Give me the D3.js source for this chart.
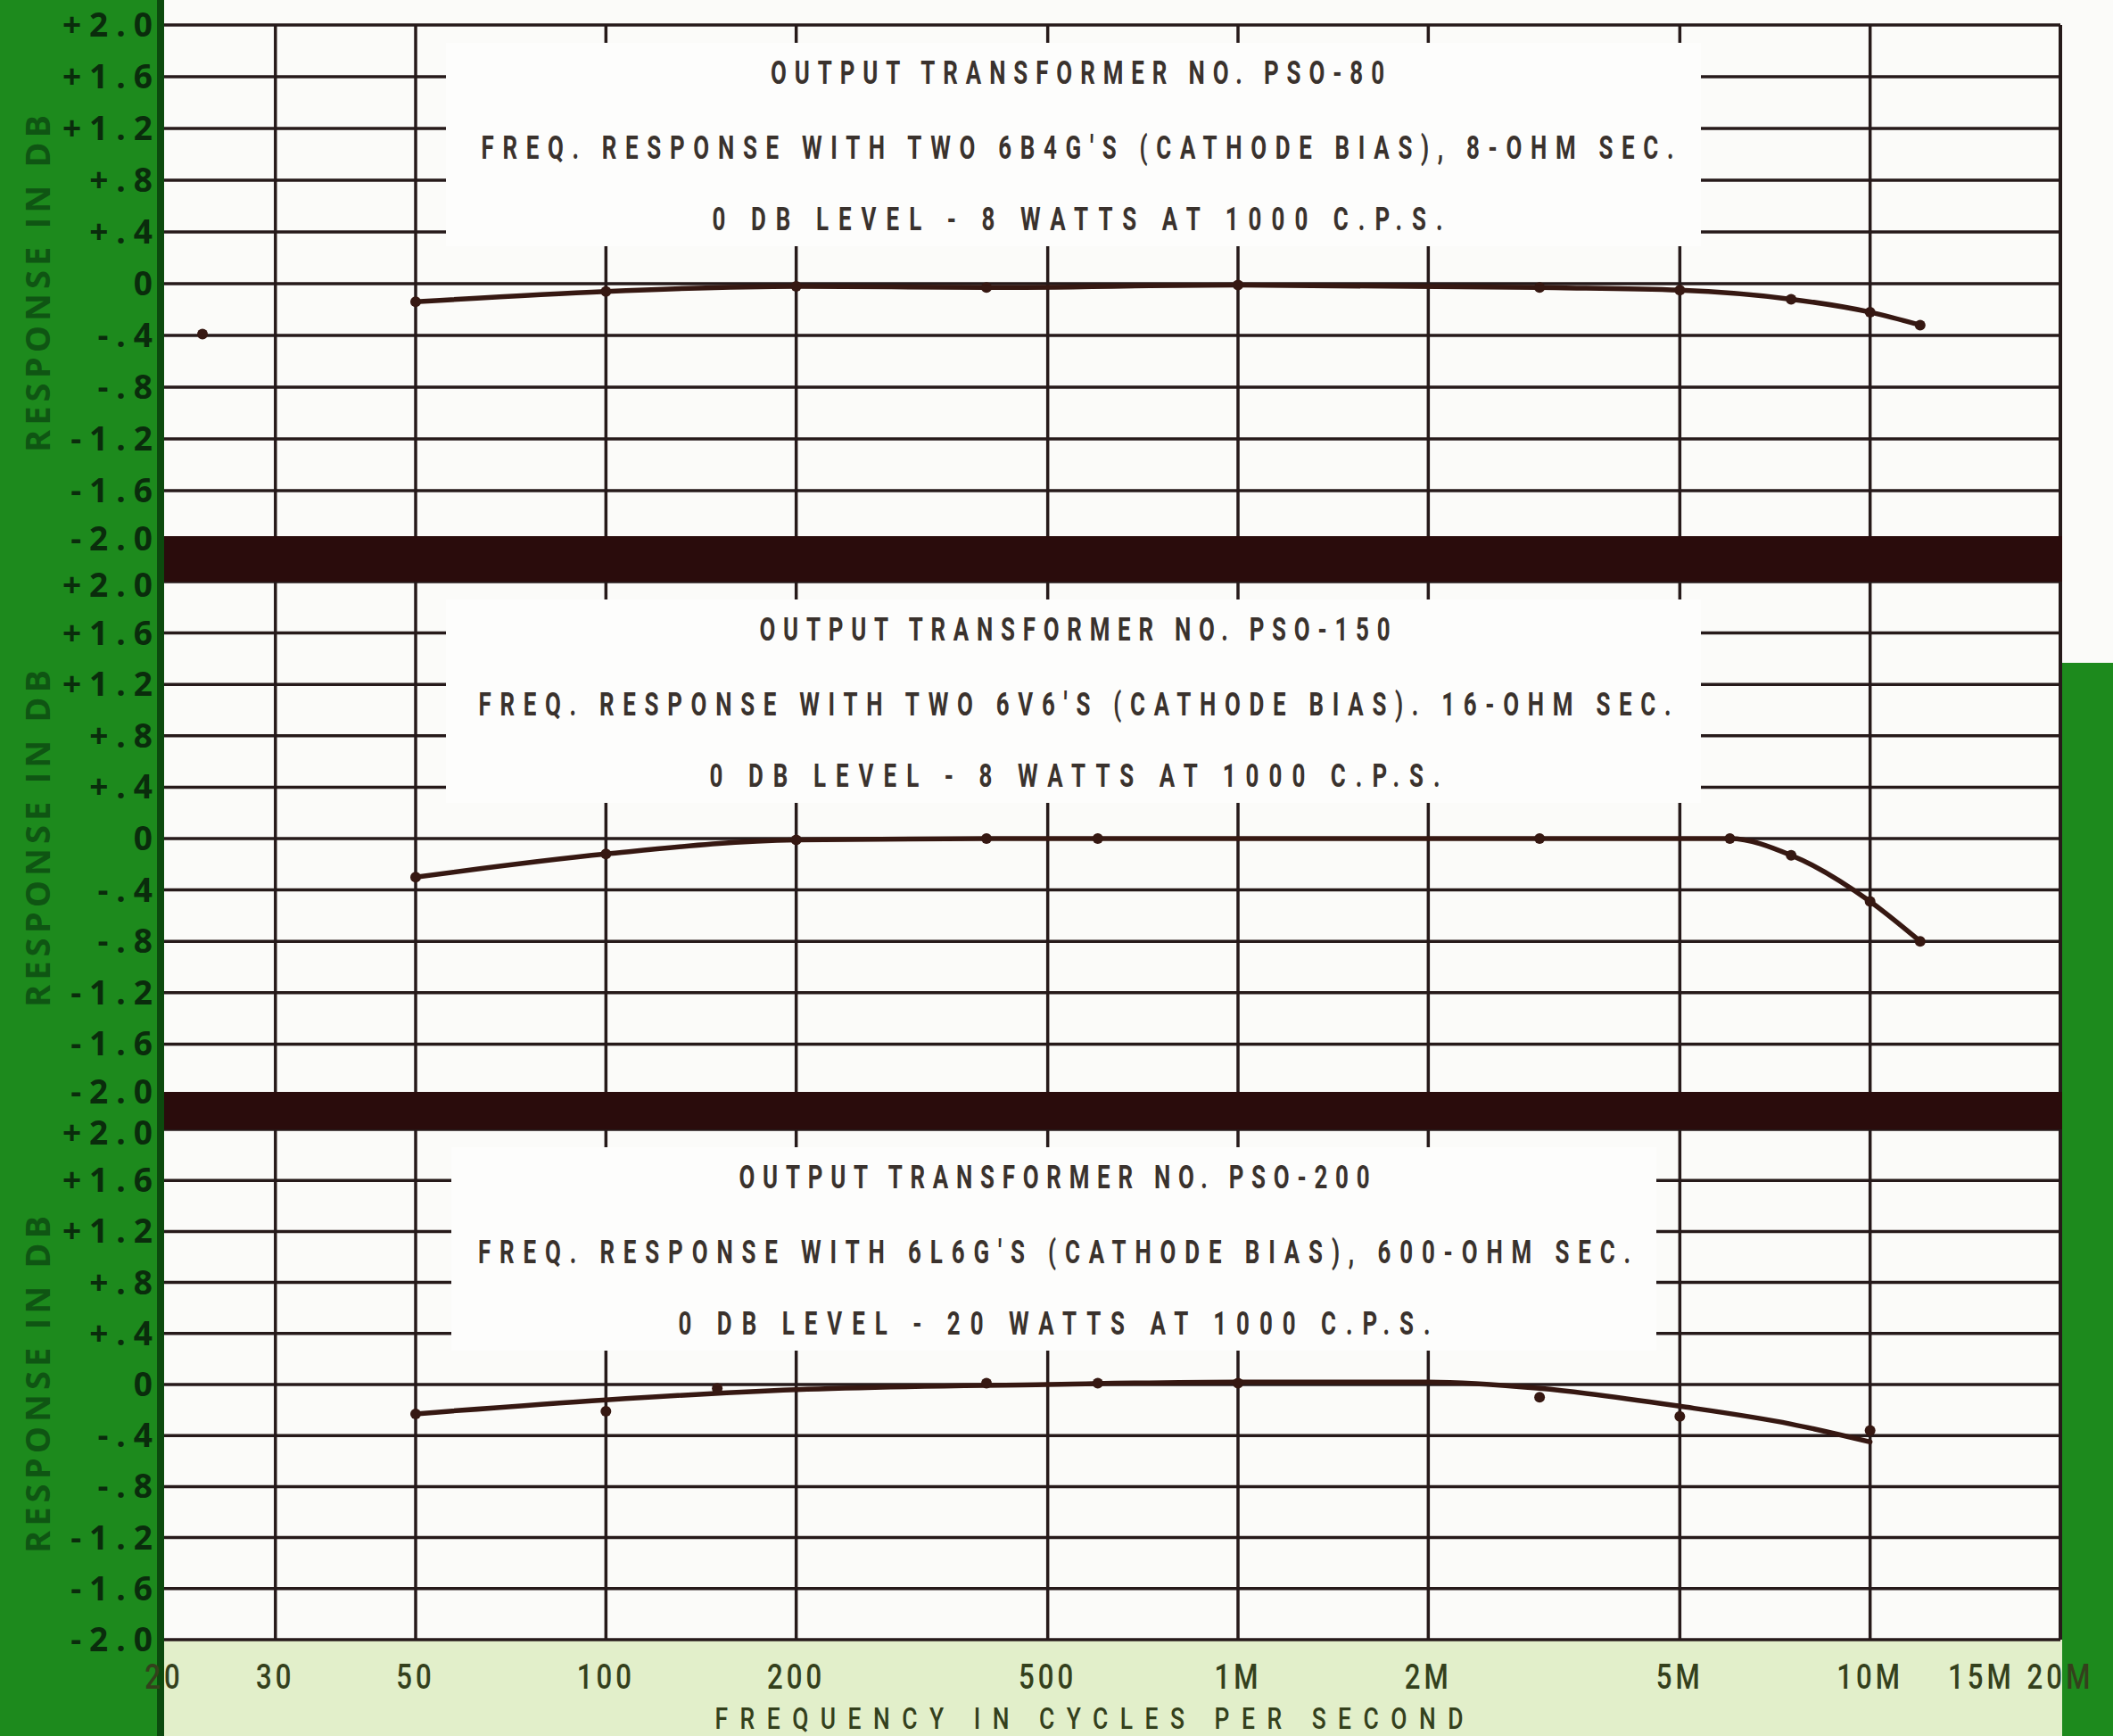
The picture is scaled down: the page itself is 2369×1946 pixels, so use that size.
<!DOCTYPE html>
<html>
<head>
<meta charset="utf-8">
<script src="https://cdnjs.cloudflare.com/ajax/libs/d3/7.8.5/d3.min.js"></script>
<style>
  body { margin: 0; background: #fbfbf9; }
  svg { display: block; }
</style>
</head>
<body>
<div id="chart"></div>
<script>

// ---- data ----
var freqTicks  = [20, 30, 50, 100, 200, 500, 1000, 2000, 5000, 10000, 15000, 20000];
var freqLabels = ["20", "30", "50", "100", "200", "500", "1M", "2M", "5M", "10M", "15M", "20M"];
var gridFreqs  = [30, 50, 100, 200, 500, 1000, 2000, 5000, 10000, 20000];
var dbTicks    = [2.0, 1.6, 1.2, 0.8, 0.4, 0, -0.4, -0.8, -1.2, -1.6, -2.0];
var dbLabels   = ["+2.0", "+1.6", "+1.2", "+.8", "+.4", "0", "-.4", "-.8", "-1.2", "-1.6", "-2.0"];

var titlesPso80  = ["OUTPUT TRANSFORMER NO. PSO-80",
                    "FREQ. RESPONSE WITH TWO 6B4G'S (CATHODE BIAS), 8-OHM SEC.",
                    "0 DB LEVEL - 8 WATTS AT 1000 C.P.S."];
var titlesPso150 = ["OUTPUT TRANSFORMER NO. PSO-150",
                    "FREQ. RESPONSE WITH TWO 6V6'S (CATHODE BIAS). 16-OHM SEC.",
                    "0 DB LEVEL - 8 WATTS AT 1000 C.P.S."];
var titlesPso200 = ["OUTPUT TRANSFORMER NO. PSO-200",
                    "FREQ. RESPONSE WITH 6L6G'S (CATHODE BIAS), 600-OHM SEC.",
                    "0 DB LEVEL - 20 WATTS AT 1000 C.P.S."];

// PSO-80 : first point (23 c/s) stands alone, not joined to the curve
var pso80StrayHz = [23];
var pso80StrayDb = [-0.39];
var pso80Hz = [50, 100, 200, 400, 1000, 3000, 5000, 7500, 10000, 12000];
var pso80Db = [-0.14, -0.06, -0.02, -0.03, -0.01, -0.03, -0.05, -0.12, -0.22, -0.32];

// PSO-150
var pso150Hz = [50, 100, 200, 400, 600, 3000, 6000, 7500, 10000, 12000];
var pso150Db = [-0.30, -0.12, -0.01, 0, 0, 0, 0, -0.13, -0.49, -0.80];

// PSO-200 : measured points sit a little off the faired curve
var pso200Hz = [50, 100, 150, 400, 600, 1000, 3000, 5000, 10000];
var pso200Db = [-0.23, -0.21, -0.03, 0.01, 0.01, 0.01, -0.10, -0.25, -0.36];
var pso200CurveHz = [50, 100, 200, 500, 1000, 2000, 3000, 5000, 7500, 10000];
var pso200CurveDb = [-0.23, -0.12, -0.04, 0.0, 0.02, 0.02, -0.03, -0.17, -0.31, -0.45];

// ---- layout ----
var W = 2369, H = 1946;
var plotL = 184, plotR = 2310;
var inkGrid = "#261a1a", inkCurve = "#361812", inkTitle = "#3a322d";
var green = "#1d8a1d", darkGreen = "#0c4a0e", paleGreen = "#e2efca", band = "#2a0c0c";
var letterFont = "Roboto, 'DejaVu Sans', sans-serif";

function zip(a, b) { return a.map(function(v, i) { return [v, b[i]]; }); }

var panels = [
  { top: 28,   bottom: 608,  box: [500, 1907], cx: 1208, widths: [688, 1337, 819], titles: titlesPso80,
    curve: zip(pso80Hz, pso80Db), points: zip(pso80StrayHz, pso80StrayDb).concat(zip(pso80Hz, pso80Db)) },
  { top: 652,  bottom: 1228, box: [500, 1907], cx: 1205, widths: [707, 1337, 819], titles: titlesPso150,
    curve: zip(pso150Hz, pso150Db), points: zip(pso150Hz, pso150Db) },
  { top: 1266, bottom: 1838, box: [506, 1857], cx: 1182, widths: [707, 1292, 843], titles: titlesPso200,
    curve: zip(pso200CurveHz, pso200CurveDb), points: zip(pso200Hz, pso200Db) }
];

var x = d3.scaleLog().domain([20, 20000]).range([plotL, plotR]);

var svg = d3.select("#chart").append("svg")
    .attr("width", W)
    .attr("height", H);

svg.append("rect").attr("width", W).attr("height", H).attr("fill", "#fbfbf9");

// pale green strip under the bottom chart
svg.append("rect")
    .attr("x", plotL).attr("y", 1838)
    .attr("width", 2312 - plotL).attr("height", H - 1838)
    .attr("fill", paleGreen);

panels.forEach(function(p) {
  var y = d3.scaleLinear().domain([2, -2]).range([p.top, p.bottom]);
  p.y = y;
  var g = svg.append("g");

  g.selectAll(".hgrid")
      .data(dbTicks)
    .enter().append("line")
      .attr("x1", plotL).attr("x2", plotR)
      .attr("y1", function(d) { return y(d); })
      .attr("y2", function(d) { return y(d); })
      .attr("stroke", inkGrid)
      .attr("stroke-width", 3.5);

  g.selectAll(".vgrid")
      .data(gridFreqs)
    .enter().append("line")
      .attr("x1", function(d) { return x(d); })
      .attr("x2", function(d) { return x(d); })
      .attr("y1", p.top).attr("y2", p.bottom)
      .attr("stroke", inkGrid)
      .attr("stroke-width", function(d) { return d === 20000 ? 4 : 3.5; });

  // white patch behind the lettering
  g.append("rect")
      .attr("x", p.box[0]).attr("y", p.top + 20)
      .attr("width", p.box[1] - p.box[0]).attr("height", 228)
      .attr("fill", "#fdfdfc");

  // narrow, tall stencil-like lettering: squeeze glyphs, stretch spacing
  var baselines = [66, 150, 230];
  var squeeze = 0.7;
  g.selectAll(".title")
      .data(p.titles)
    .enter().append("text")
      .attr("transform", function(d, i) {
        return "translate(" + p.cx + "," + (p.top + baselines[i]) + ") scale(" + squeeze + ",1)";
      })
      .attr("text-anchor", "middle")
      .attr("textLength", function(d, i) { return p.widths[i] / squeeze; })
      .attr("lengthAdjust", "spacing")
      .style("font-family", letterFont)
      .style("font-weight", "700")
      .style("font-size", "37px")
      .style("fill", inkTitle)
      .text(function(d) { return d; });

  var line = d3.line()
      .x(function(d) { return x(d[0]); })
      .y(function(d) { return y(d[1]); })
      .curve(d3.curveMonotoneX);

  g.append("path")
      .datum(p.curve)
      .attr("d", line)
      .attr("fill", "none")
      .attr("stroke", inkCurve)
      .attr("stroke-width", 5.5)
      .attr("stroke-linecap", "round");

  g.selectAll(".pt")
      .data(p.points)
    .enter().append("circle")
      .attr("cx", function(d) { return x(d[0]); })
      .attr("cy", function(d) { return y(d[1]); })
      .attr("r", 6)
      .attr("fill", inkCurve);
});

// heavy dark bars between the charts
svg.append("rect").attr("x", plotL).attr("y", 601).attr("width", plotR - plotL + 2).attr("height", 51).attr("fill", band);
svg.append("rect").attr("x", plotL).attr("y", 1224).attr("width", plotR - plotL + 2).attr("height", 42).attr("fill", band);

// green page margins
svg.append("rect").attr("x", 0).attr("y", 0).attr("width", 184).attr("height", H).attr("fill", green);
svg.append("rect").attr("x", 176).attr("y", 0).attr("width", 8).attr("height", H).attr("fill", darkGreen);
svg.append("rect").attr("x", 2312).attr("y", 743).attr("width", W - 2312).attr("height", H - 743).attr("fill", green);

// y tick labels and titles on the green margin
panels.forEach(function(p, pi) {
  svg.selectAll(null)
      .data(dbTicks)
    .enter().append("text")
      .attr("x", 180)
      .attr("y", function(d) {
        var nudge = 0;
        if (d === -2 && pi < 2) nudge = -4;
        if (d === 2 && pi > 0) nudge = 4;
        return p.y(d) + 13 + nudge;
      })
      .attr("text-anchor", "end")
      .style("font-family", "'Open Sans', 'DejaVu Sans', sans-serif")
      .style("font-weight", "700")
      .style("font-size", "37px")
      .style("letter-spacing", "9px")
      .style("fill", "#0a2c0c")
      .text(function(d, i) { return dbLabels[i]; });

  svg.append("text")
      .attr("transform", "translate(56," + p.y(0) + ") rotate(-90)")
      .attr("text-anchor", "middle")
      .attr("textLength", 378)
      .attr("lengthAdjust", "spacing")
      .style("font-family", "'Open Sans', 'DejaVu Sans', sans-serif")
      .style("font-weight", "700")
      .style("font-size", "38px")
      .style("fill", "#0f5513")
      .text("RESPONSE IN DB");
});

// frequency labels
var xSqueeze = 0.82;
svg.selectAll(".xlab")
    .data(freqTicks)
  .enter().append("text")
    .attr("transform", function(d) { return "translate(" + x(d) + ",1893) scale(" + xSqueeze + ",1)"; })
    .attr("text-anchor", "middle")
    .style("font-family", letterFont)
    .style("font-weight", "500")
    .style("font-size", "38px")
    .style("letter-spacing", "5px")
    .style("fill", "#34401c")
    .text(function(d, i) { return freqLabels[i]; });

svg.append("text")
    .attr("transform", "translate(1221,1938) scale(0.8,1)")
    .attr("text-anchor", "middle")
    .attr("textLength", 839 / 0.8)
    .attr("lengthAdjust", "spacing")
    .style("font-family", letterFont)
    .style("font-weight", "500")
    .style("font-size", "33px")
    .style("fill", "#34401c")
    .text("FREQUENCY IN CYCLES PER SECOND");

</script>
</body>
</html>
